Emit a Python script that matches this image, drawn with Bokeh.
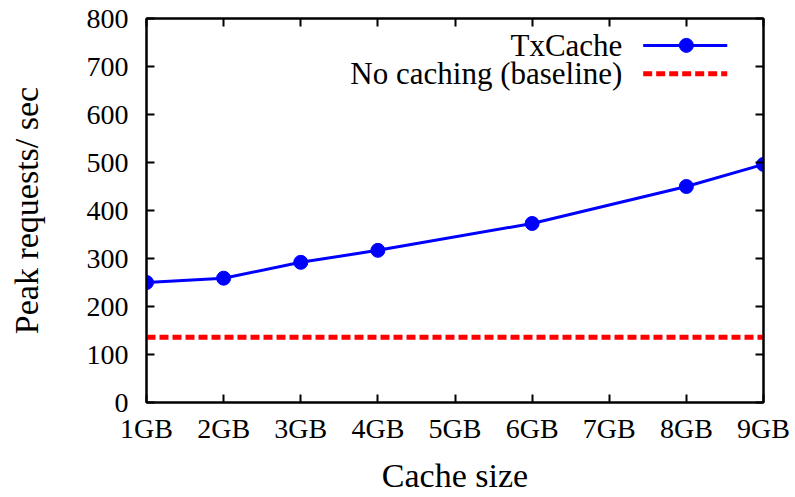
from bokeh.plotting import figure
from bokeh.models import Range1d, LinearAxis, FixedTicker
from bokeh.embed import file_html
from bokeh.resources import INLINE
from bokeh.core.properties import value

# Data
cache_gb = [1, 2, 3, 4, 6, 8, 9]
txcache = [250, 259, 292, 317, 373, 450, 496]
baseline_x = [1, 9]
baseline = [136, 136]
x_ticks = [1, 2, 3, 4, 5, 6, 7, 8, 9]
x_tick_labels = ["1GB", "2GB", "3GB", "4GB", "5GB", "6GB", "7GB", "8GB", "9GB"]
y_ticks = [0, 100, 200, 300, 400, 500, 600, 700, 800]
series_names = ["TxCache", "No caching (baseline)"]

FONT = "Liberation Serif"

p = figure(width=795, height=497, output_backend="svg", toolbar_location=None,
           x_range=Range1d(1, 9), y_range=Range1d(0, 800),
           min_border_left=146, min_border_right=32, min_border_top=18, min_border_bottom=95)
p.grid.visible = False
p.outline_line_color = "black"
p.outline_line_width = 2

for ax in [p.xaxis[0], p.yaxis[0]]:
    ax.major_tick_in = 8
    ax.major_tick_out = 0
    ax.minor_tick_line_color = None
    ax.axis_line_width = 2
    ax.major_tick_line_width = 2
    ax.major_label_text_font = FONT
    ax.major_label_text_font_size = "28px"
    ax.major_label_text_color = "black"
    ax.axis_label_text_font = FONT
    ax.axis_label_text_font_size = "34px"
    ax.axis_label_text_font_style = "normal"
    ax.axis_label_text_color = "black"

p.xaxis[0].ticker = FixedTicker(ticks=x_ticks)
p.xaxis[0].major_label_overrides = {t: l for t, l in zip(x_ticks, x_tick_labels)}
p.xaxis[0].major_label_standoff = 10
p.xaxis[0].axis_label = "Cache size"
p.xaxis[0].axis_label_standoff = 10
p.yaxis[0].ticker = FixedTicker(ticks=y_ticks)
p.yaxis[0].major_label_standoff = 18
p.yaxis[0].axis_label = "Peak requests/ sec"
p.yaxis[0].axis_label_standoff = 39

top = LinearAxis(ticker=FixedTicker(ticks=x_ticks), major_label_text_font_size="0px",
                 major_tick_in=8, major_tick_out=0, minor_tick_line_color=None,
                 axis_line_width=2, major_tick_line_width=2, major_label_standoff=0)
right = LinearAxis(ticker=FixedTicker(ticks=y_ticks), major_label_text_font_size="0px",
                   major_tick_in=8, major_tick_out=0, minor_tick_line_color=None,
                   axis_line_width=2, major_tick_line_width=2, major_label_standoff=0)
top.major_label_text_color = None
right.major_label_text_color = None
p.add_layout(top, "above")
p.add_layout(right, "right")

# baseline
p.line(baseline_x, baseline, line_color="#ff0000", line_width=5, line_dash="9 4")
# TxCache
p.line(cache_gb, txcache, line_color="#0000ff", line_width=3)
p.scatter(cache_gb, txcache, size=14, color="#0000ff")

# legend (gnuplot style: text left, sample right)
p.text([7.17, 7.17], [744, 685], text=series_names, text_font=value(FONT),
       text_font_size="31px", text_align="right", text_baseline="middle", text_color="black")
p.line([7.44, 8.53], [744, 744], line_color="#0000ff", line_width=3)
p.scatter([8.0], [744], size=14, color="#0000ff")
p.line([7.44, 8.53], [685, 685], line_color="#ff0000", line_width=5, line_dash="9 4")

open("out.html", "w").write(file_html(p, INLINE))
